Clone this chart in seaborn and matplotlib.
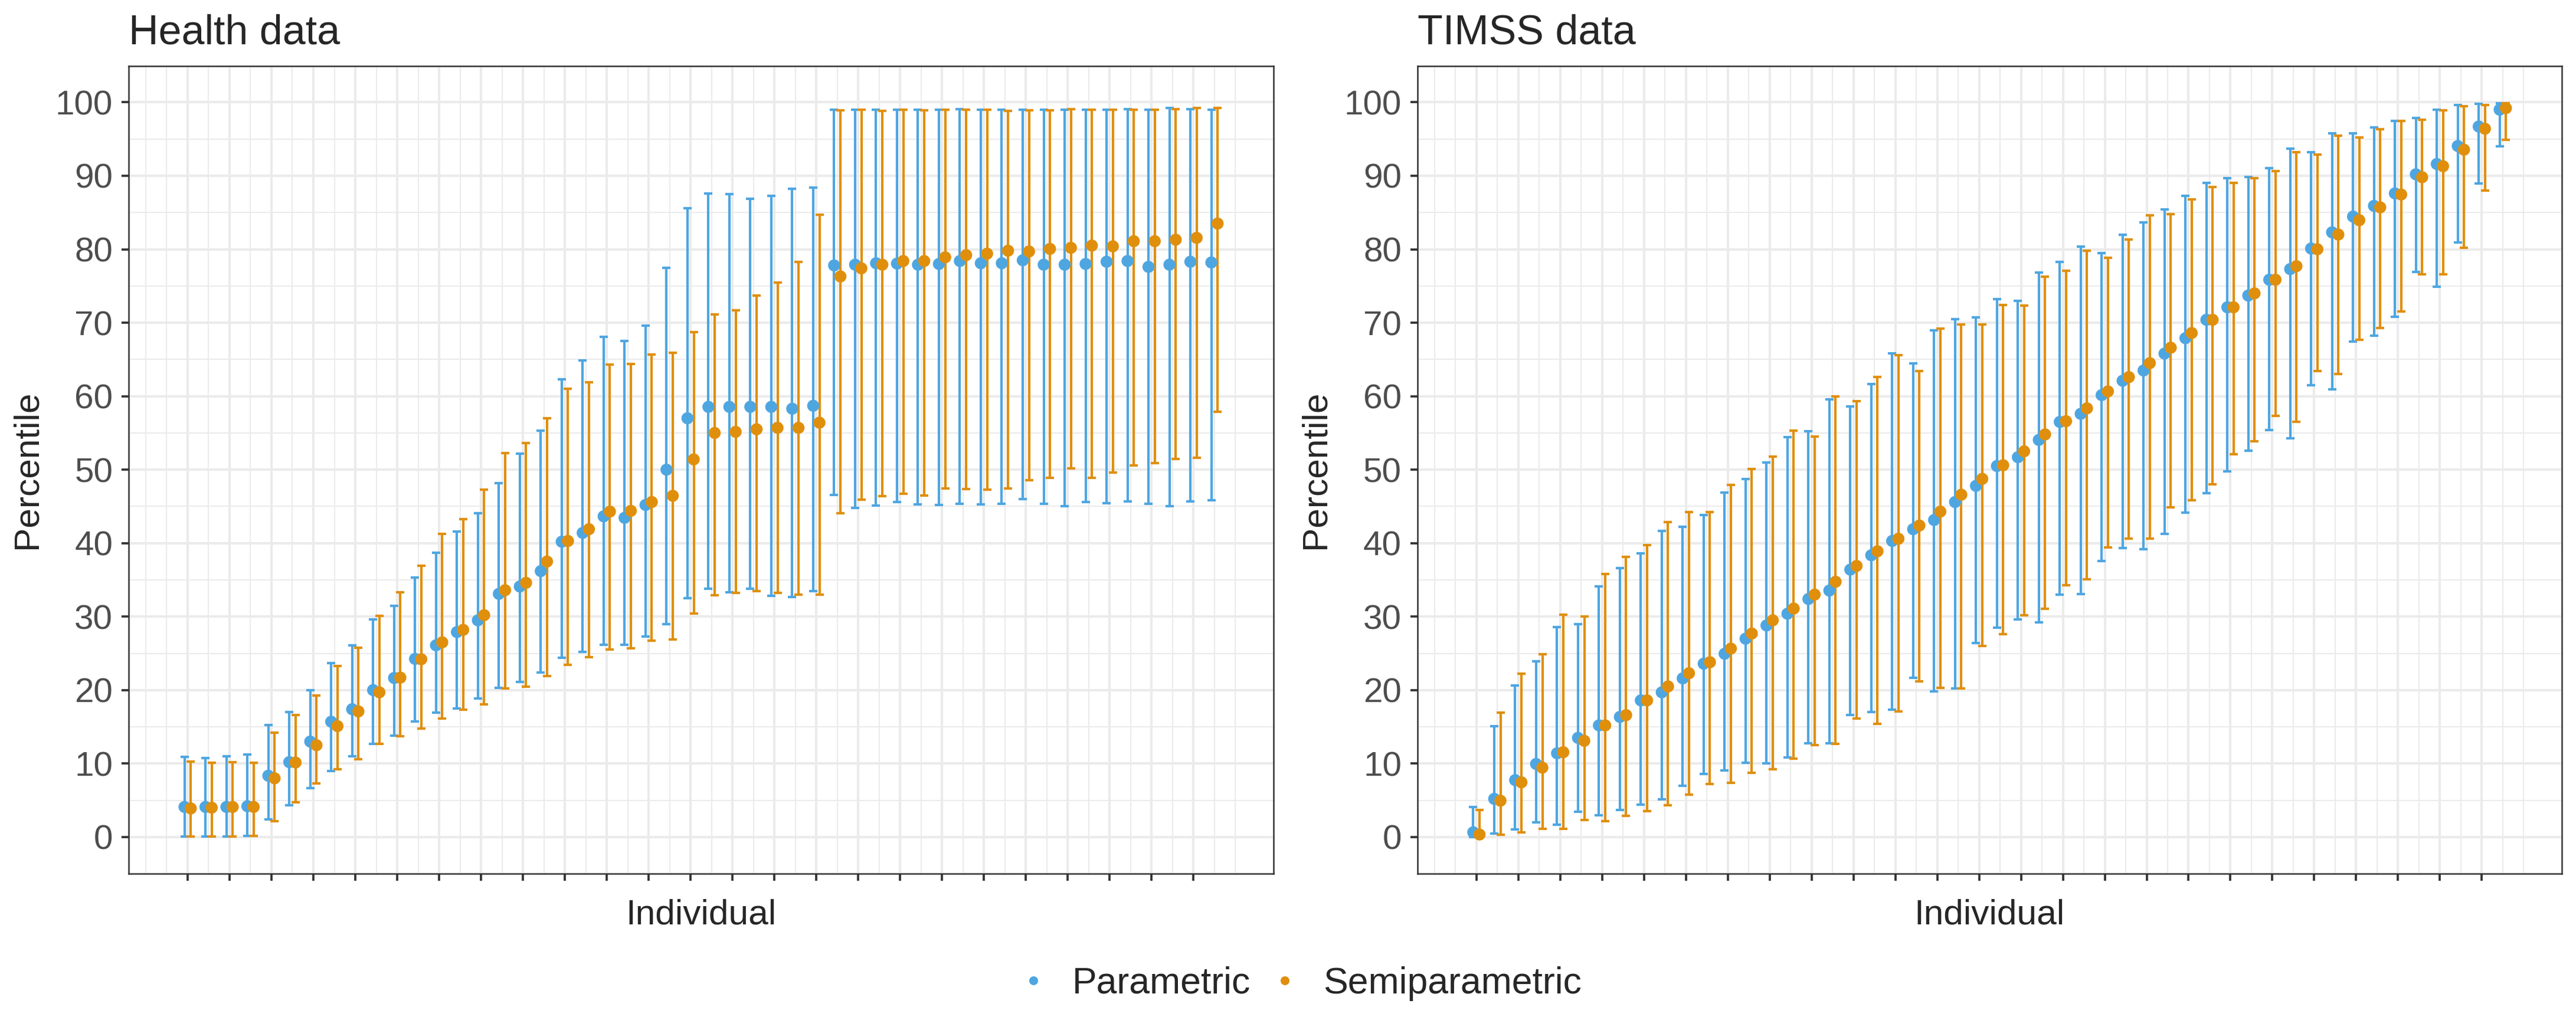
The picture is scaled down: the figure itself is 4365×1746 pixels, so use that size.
import numpy as np
import pandas as pd
import matplotlib
matplotlib.use("Agg")
import matplotlib.pyplot as plt
import seaborn as sns
from matplotlib.lines import Line2D

# ---- Health data (percentile estimate, lower, upper) ----
health_par_est = [4.1, 4.1, 4.1, 4.2, 8.35, 10.2, 13.0, 15.7, 17.4, 20.0,
                  21.65, 24.25, 26.1, 27.9, 29.5, 33.1, 34.1, 36.2, 40.2, 41.4,
                  43.65, 43.45, 45.2, 50.0, 57.0, 58.55, 58.55, 58.55, 58.55, 58.3,
                  58.7, 77.8, 77.9, 78.1, 78.05, 77.9, 78.0, 78.4, 78.1, 78.1,
                  78.5, 77.9, 77.9, 78.0, 78.3, 78.4, 77.6, 77.9, 78.3, 78.2]
health_par_lo = [0.1, 0.1, 0.1, 0.15, 2.4, 4.35, 6.7, 9.0, 11.0, 12.7,
                 13.8, 15.7, 16.9, 17.5, 18.9, 20.3, 21.1, 22.4, 24.4, 25.2,
                 26.2, 26.2, 27.3, 29.0, 32.5, 33.8, 33.3, 33.8, 32.8, 32.7,
                 33.5, 46.6, 44.8, 45.1, 45.6, 45.3, 45.2, 45.35, 45.3, 45.35,
                 46.0, 45.35, 45.0, 45.6, 45.4, 45.7, 45.35, 45.0, 45.7, 45.8]
health_par_hi = [10.9, 10.75, 11.0, 11.25, 15.25, 17.0, 20.0, 23.7, 26.1, 29.6,
                 31.5, 35.3, 38.7, 41.6, 44.1, 48.2, 52.2, 55.3, 62.3, 64.9,
                 68.1, 67.5, 69.6, 77.5, 85.6, 87.6, 87.5, 86.9, 87.3, 88.2,
                 88.4, 98.95, 98.95, 98.95, 98.95, 98.95, 99.0, 99.1, 99.0, 98.95,
                 99.0, 98.95, 98.95, 99.0, 99.0, 99.05, 98.95, 99.2, 99.1, 99.0]
health_semi_est = [3.9, 4.0, 4.1, 4.1, 8.0, 10.15, 12.5, 15.1, 17.1, 19.7,
                   21.7, 24.2, 26.5, 28.2, 30.2, 33.6, 34.6, 37.5, 40.3, 41.9,
                   44.3, 44.4, 45.6, 46.45, 51.4, 55.0, 55.15, 55.5, 55.7, 55.7,
                   56.4, 76.3, 77.4, 77.9, 78.4, 78.4, 78.9, 79.2, 79.4, 79.8,
                   79.7, 80.05, 80.2, 80.5, 80.4, 81.1, 81.1, 81.3, 81.55, 83.5]
health_semi_lo = [0.1, 0.1, 0.1, 0.15, 2.2, 4.75, 7.3, 9.2, 10.6, 12.7,
                  13.7, 14.8, 16.1, 17.3, 18.1, 20.25, 20.5, 21.9, 23.4, 24.5,
                  25.5, 25.7, 26.7, 26.9, 30.4, 32.9, 33.25, 33.5, 33.2, 33.0,
                  33.0, 44.1, 45.9, 46.4, 46.7, 46.5, 47.45, 47.4, 47.3, 47.45,
                  48.6, 48.9, 50.2, 48.9, 49.6, 50.55, 50.9, 51.45, 51.6, 57.9]
health_semi_hi = [10.25, 10.1, 10.2, 10.1, 14.2, 16.6, 19.3, 23.3, 25.75, 30.1,
                  33.3, 36.95, 41.3, 43.3, 47.3, 52.3, 53.65, 57.0, 61.0, 61.9,
                  64.3, 64.4, 65.7, 65.9, 68.7, 71.1, 71.7, 73.7, 75.5, 78.3,
                  84.7, 98.9, 98.95, 98.8, 98.95, 98.9, 98.95, 99.0, 99.0, 98.8,
                  98.9, 98.9, 99.05, 99.0, 98.95, 99.0, 99.0, 99.05, 99.2, 99.2]

# ---- TIMSS data ----
timss_par_est = [0.65, 5.2, 7.75, 9.95, 11.4, 13.5, 15.2, 16.35, 18.6, 19.7,
                 21.6, 23.6, 24.95, 27.0, 28.8, 30.4, 32.4, 33.55, 36.4, 38.35,
                 40.3, 41.9, 43.15, 45.6, 47.8, 50.5, 51.7, 54.05, 56.5, 57.6,
                 60.15, 62.1, 63.5, 65.8, 67.9, 70.4, 72.1, 73.7, 75.85, 77.3,
                 80.1, 82.3, 84.45, 85.9, 87.6, 90.2, 91.6, 94.05, 96.7, 99.0]
timss_par_lo = [0.0, 0.5, 1.0, 2.0, 1.65, 3.45, 2.95, 3.65, 4.45, 5.15,
                7.0, 8.6, 9.1, 10.1, 10.0, 10.8, 12.8, 12.75, 16.6, 17.0,
                17.35, 21.65, 19.85, 20.2, 26.4, 28.5, 29.6, 29.25, 33.0, 33.1,
                37.55, 39.3, 39.15, 41.3, 44.15, 46.8, 49.75, 52.55, 55.4, 54.3,
                61.5, 60.9, 67.4, 68.2, 70.8, 76.9, 74.9, 80.9, 88.95, 94.0]
timss_par_hi = [4.1, 15.1, 20.6, 23.9, 28.6, 28.95, 34.1, 36.6, 38.6, 41.7,
                42.2, 43.8, 46.9, 48.75, 51.0, 54.4, 55.2, 59.6, 58.6, 61.65,
                65.8, 64.5, 69.0, 70.5, 70.7, 73.2, 73.0, 76.85, 78.3, 80.4,
                79.5, 82.0, 83.65, 85.45, 87.3, 89.0, 89.7, 89.8, 91.0, 93.7,
                93.2, 95.8, 95.8, 96.55, 97.5, 97.9, 99.0, 99.6, 99.8, 99.9]
timss_semi_est = [0.35, 4.95, 7.45, 9.45, 11.55, 13.1, 15.2, 16.6, 18.6, 20.5,
                  22.3, 23.8, 25.65, 27.7, 29.5, 31.1, 33.0, 34.75, 36.9, 38.9,
                  40.6, 42.4, 44.3, 46.6, 48.75, 50.6, 52.5, 54.8, 56.6, 58.35,
                  60.65, 62.6, 64.5, 66.6, 68.6, 70.4, 72.1, 74.0, 75.85, 77.7,
                  80.0, 82.0, 83.95, 85.7, 87.45, 89.8, 91.3, 93.55, 96.4, 99.2]
timss_semi_lo = [0.0, 0.3, 0.65, 1.15, 1.15, 2.35, 2.15, 2.9, 3.5, 4.3,
                 5.8, 7.25, 7.4, 8.75, 9.25, 10.65, 12.5, 12.7, 16.1, 15.4,
                 17.1, 21.2, 20.3, 20.2, 26.0, 27.6, 30.2, 31.1, 34.3, 35.05,
                 39.4, 40.6, 40.6, 44.9, 45.8, 48.0, 52.1, 53.9, 57.35, 56.5,
                 63.4, 63.0, 67.7, 69.3, 71.5, 76.6, 76.55, 80.2, 87.95, 94.9]
timss_semi_hi = [3.65, 16.9, 22.2, 24.9, 30.25, 30.0, 35.8, 38.1, 39.7, 42.9,
                 44.2, 44.2, 47.95, 50.1, 51.8, 55.3, 54.5, 60.0, 59.3, 62.6,
                 65.6, 63.4, 69.2, 69.75, 69.75, 72.4, 72.3, 76.3, 77.1, 79.8,
                 78.85, 81.3, 84.6, 84.75, 86.8, 88.5, 89.0, 89.7, 90.6, 93.2,
                 92.9, 95.45, 95.2, 96.3, 97.5, 97.6, 98.9, 99.5, 99.65, 99.9]

methods = ["Parametric", "Semiparametric"]
colors = {"Parametric": "#4EA6E1", "Semiparametric": "#E08F0C"}
dodge = {"Parametric": -0.15, "Semiparametric": 0.15}


def make_df(par, semi):
    rows = []
    for name, (est, lo, hi) in zip(methods, [par, semi]):
        n = len(est)
        rows.append(pd.DataFrame({
            "Individual": np.arange(1, n + 1),
            "Method": name,
            "est": est, "lo": lo, "hi": hi,
        }))
    df = pd.concat(rows, ignore_index=True)
    df["x"] = df["Individual"] + df["Method"].map(dodge)
    return df


health = make_df((health_par_est, health_par_lo, health_par_hi),
                 (health_semi_est, health_semi_lo, health_semi_hi))
timss = make_df((timss_par_est, timss_par_lo, timss_par_hi),
                (timss_semi_est, timss_semi_lo, timss_semi_hi))

sns.set_theme(style="white")
plt.rcParams["font.family"] = ["Liberation Sans", "DejaVu Sans"]

fig = plt.figure(figsize=(14.55, 5.82), dpi=300)
ax1 = fig.add_axes([0.0499, 0.152, 0.4445, 0.784])
ax2 = fig.add_axes([0.5502, 0.152, 0.4443, 0.784])

for ax, df, title in [(ax1, health, "Health data"), (ax2, timss, "TIMSS data")]:
    for m in methods:
        d = df[df["Method"] == m]
        ax.errorbar(d["x"], d["est"], yerr=[d["est"] - d["lo"], d["hi"] - d["est"]],
                    fmt="none", ecolor=colors[m], elinewidth=1.0,
                    capsize=1.7, capthick=1.0, zorder=2)
    sns.scatterplot(data=df, x="x", y="est", hue="Method", palette=colors,
                    hue_order=methods, s=24, linewidth=0, legend=False,
                    ax=ax, zorder=3)

    n = df["Individual"].max()
    ax.set_xlim(-1.82, n + 2.82)
    ax.set_ylim(-4.95, 104.95)
    major_x = np.arange(1, n, 2)
    minor_x = [v for v in range(-1, n + 2) if v not in set(major_x)]
    ax.set_xticks(major_x)
    ax.set_xticks(minor_x, minor=True)
    ax.set_xticklabels([])
    ax.set_yticks(np.arange(0, 101, 10))
    ax.set_yticks(np.arange(5, 100, 10), minor=True)
    ax.set_axisbelow(True)
    ax.grid(which="major", color="#EBEBEB", linewidth=1.0)
    ax.grid(which="minor", color="#EBEBEB", linewidth=0.5)
    ax.tick_params(which="major", direction="out", length=2.9, width=0.9,
                   color="#333333", labelsize=14, labelcolor="#4D4D4D", pad=3.5,
                   bottom=True, left=True)
    ax.tick_params(which="minor", length=0)
    for sp in ax.spines.values():
        sp.set_color("#333333")
        sp.set_linewidth(0.6)
    ax.set_xlabel("Individual", fontsize=14.5, labelpad=4)
    ax.set_ylabel("Percentile", fontsize=14.5, labelpad=5)
    ax.set_title(title, loc="left", fontsize=16.8, pad=9)

handles = [Line2D([0], [0], marker="o", linestyle="none", markersize=3.6,
                  markerfacecolor=colors[m], markeredgewidth=0) for m in methods]
fig.legend(handles, methods, loc="center", bbox_to_anchor=(0.504, 0.045), ncol=2,
           frameon=False, fontsize=15, handletextpad=0.55, columnspacing=0.42,
           handlelength=1.0)

fig.savefig("out.png", dpi=300)
